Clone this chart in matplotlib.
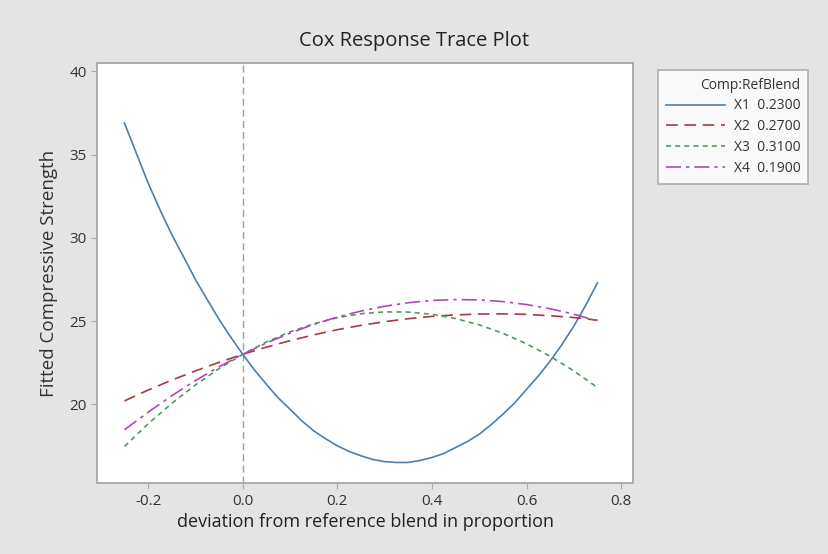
import matplotlib
matplotlib.use("Agg")
import matplotlib.pyplot as plt
from matplotlib.lines import Line2D

plt.rcParams['font.family'] = ['Open Sans', 'DejaVu Sans']

# deviation from reference blend (x) and fitted response for each component
deviation_fine = [-0.25, -0.225, -0.20, -0.175, -0.15, -0.125, -0.10, -0.075, -0.05, -0.025,
                  0.00, 0.025, 0.05, 0.075, 0.10, 0.125, 0.15, 0.175, 0.20, 0.225,
                  0.25, 0.275, 0.30, 0.325, 0.35, 0.375, 0.40, 0.425, 0.45, 0.475,
                  0.50, 0.525, 0.55, 0.575, 0.60, 0.625, 0.65, 0.675, 0.70, 0.725, 0.75]
x1 = [36.9, 35.1, 33.3, 31.7, 30.2, 28.86, 27.5, 26.29, 25.1, 24.02,
      23.0, 22.05, 21.2, 20.38, 19.7, 19.0, 18.4, 17.93, 17.5, 17.16,
      16.9, 16.68, 16.55, 16.5, 16.5, 16.62, 16.8, 17.04, 17.4, 17.76,
      18.2, 18.77, 19.4, 20.08, 20.9, 21.7, 22.6, 23.6, 24.7, 25.95, 27.3]

deviation = [-0.25, -0.20, -0.15, -0.10, -0.05, 0.00, 0.05, 0.10, 0.15, 0.20, 0.25,
             0.30, 0.35, 0.40, 0.45, 0.50, 0.55, 0.60, 0.65, 0.70, 0.75]
x2 = [20.2, 20.85, 21.45, 22.0, 22.52, 23.0, 23.43, 23.82, 24.17, 24.48, 24.74,
      24.96, 25.14, 25.28, 25.37, 25.42, 25.43, 25.40, 25.32, 25.21, 25.05]
x3 = [17.46, 18.82, 20.05, 21.16, 22.14, 23.0, 23.74, 24.35, 24.83, 25.20, 25.44,
      25.55, 25.54, 25.41, 25.15, 24.77, 24.26, 23.63, 22.88, 22.0, 21.0]
x4 = [18.46, 19.52, 20.51, 21.42, 22.25, 23.0, 23.68, 24.27, 24.80, 25.24, 25.60,
      25.89, 26.10, 26.24, 26.29, 26.27, 26.17, 25.99, 25.74, 25.41, 25.0]

components = ["X1", "X2", "X3", "X4"]
ref_blend = ["0.2300", "0.2700", "0.3100", "0.1900"]
xs = [deviation_fine, deviation, deviation, deviation]
series = [x1, x2, x3, x4]
colors = ["#4f7fa6", "#a33c44", "#4f9a5e", "#b048b8"]
dashes = [None, (7, 4), (3, 2.5), (9, 3, 2, 3)]

fig = plt.figure(figsize=(8.29, 5.54), dpi=100)
fig.patch.set_facecolor("#e4e4e4")
ax = fig.add_axes([0.117, 0.128, 0.6466, 0.758])
ax.set_facecolor("white")

ax.axvline(0, color="#a0a0a0", lw=1.0, dashes=(5, 3))

handles = []
for x, y, c, d in zip(xs, series, colors, dashes):
    ln, = ax.plot(x, y, color=c, lw=1.2)
    h = Line2D([], [], color=c, lw=1.2)
    if d is not None:
        ln.set_dashes(d)
        h.set_dashes(d)
    handles.append(h)

ax.set_xlim(-0.308, 0.825)
ax.set_ylim(15.26, 40.5)
ax.set_xticks([-0.2, 0.0, 0.2, 0.4, 0.6, 0.8])
ax.set_xticklabels(["-0.2", "0.0", "0.2", "0.4", "0.6", "0.8"])
ax.set_yticks([20, 25, 30, 35, 40])
for s in ax.spines.values():
    s.set_color("#ababab")
    s.set_linewidth(1.4)
ax.tick_params(colors="#ababab", labelcolor="#333333", labelsize=11, length=4)

fig.text(414 / 829, 1 - 46 / 554, "Cox Response Trace Plot", ha="center", va="baseline",
         fontsize=14.5, color="#222222")
ax.set_xlabel("deviation from reference blend in proportion", fontsize=13, color="#222222")
ax.xaxis.set_label_coords(0.5, -0.072)
ax.set_ylabel("Fitted Compressive Strength", fontsize=13.5, color="#333333")
ax.yaxis.set_label_coords(-0.072, 0.5)

labels = [f"{n}  {r}" for n, r in zip(components, ref_blend)]
leg = fig.legend(handles, labels, title="Comp:RefBlend", loc="upper left",
                 bbox_to_anchor=(651 / 829, 1 - 63 / 554), fontsize=10,
                 title_fontsize=10, frameon=True, fancybox=False,
                 handlelength=4.3, handletextpad=0.6, labelspacing=0.42,
                 borderpad=0.55, alignment="right")
leg.get_frame().set_edgecolor("#ababab")
leg.get_frame().set_linewidth(1.4)
leg.get_frame().set_facecolor("white")
for t in leg.get_texts():
    t.set_color("#333333")
leg.get_title().set_color("#333333")

fig.savefig("out.png", dpi=100, facecolor=fig.get_facecolor())
